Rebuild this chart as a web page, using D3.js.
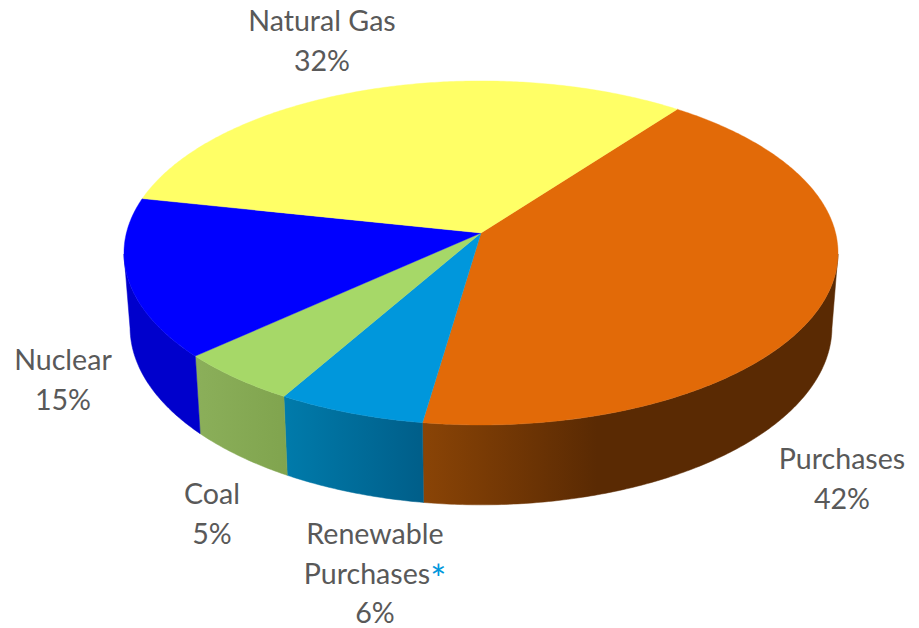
<!DOCTYPE html>
<html>
<head>
<meta charset="utf-8">
<script src="https://cdn.jsdelivr.net/npm/d3@7"></script>
<style>
  html, body { margin: 0; padding: 0; background: #fff; }
  text { font-family: Lato, "Open Sans", sans-serif; font-size: 28.6px; fill: #595959; text-anchor: middle; }
</style>
</head>
<body>
<div id="diagram"></div>
<script>
const categories = ["Purchases", "Renewable Purchases", "Coal", "Nuclear", "Natural Gas"];
const shares = [42, 6, 5, 15, 32];
const topColors = ["#E26A08", "#0097DC", "#A6D868", "#0000FF", "#FFFF66"];
const wallColors = [
  ["#8A4406", "#5A2A03"],
  ["#007BAB", "#005E89"],
  ["#8BAF5A", "#80A44E"],
  ["#0000CC", "#0000CC"],
  ["#999933", "#999933"]
];

var width = 919, height = 628;

// pie geometry, perspective was worked out from the rim of the picture
const cx = 481, cy = 233;
const rx = 354.6, ry = 169.7, persp = 0.116;
const depth = 73.5, shrink = 0.983;
const rad = Math.PI / 180;

// the wall is only seen between these two angles, the rim folds over there
const foldRight = 97 * rad, foldLeft = 263 * rad;

function project(a, level) {
  // level 0 = top face, level 1 = bottom rim
  const u = Math.sin(a), v = -Math.cos(a);
  const w = 1 - persp * v;
  const s = level ? shrink : 1;
  return [cx + rx * s * u / w, cy + (ry * s * v + (level ? depth : 0)) / w];
}

function arcPoints(a0, a1, level) {
  const n = Math.ceil(Math.abs(a1 - a0) / 0.01);
  return d3.range(n + 1).map(i => project(a0 + (a1 - a0) * i / n, level));
}

const line = d3.line();
const pie = d3.pie().sort(null).startAngle(37.2 * rad).endAngle((37.2 + 360) * rad);
const slices = pie(shares);

var svg = d3.select("#diagram").append("svg")
  .attr("width", width)
  .attr("height", height)
  .style("display", "block");

var defs = svg.append("defs");

// side walls first
slices.forEach((d, i) => {
  const a0 = Math.max(d.startAngle, foldRight);
  const a1 = Math.min(d.endAngle, foldLeft);
  if (a1 <= a0) return;
  const pts = arcPoints(a0, a1, 0).concat(arcPoints(a1, a0, 1));
  const xs = pts.map(p => p[0]);
  const id = "wall" + i;
  const grad = defs.append("linearGradient")
    .attr("id", id)
    .attr("gradientUnits", "userSpaceOnUse")
    .attr("x1", d3.min(xs))
    .attr("x2", d3.max(xs));
  // the orange wall goes dark long before the right edge
  grad.append("stop").attr("offset", 0).attr("stop-color", wallColors[i][0]);
  grad.append("stop").attr("offset", i == 0 ? 0.42 : 1).attr("stop-color", wallColors[i][1]);
  svg.append("path")
    .attr("d", line(pts) + "Z")
    .attr("fill", "url(#" + id + ")")
    .attr("stroke", "url(#" + id + ")")
    .attr("stroke-width", 0.5);
});

svg.append("g")
  .selectAll("path")
  .data(slices)
  .enter()
  .append("path")
  .attr("d", d => line([[cx, cy]].concat(arcPoints(d.startAngle, d.endAngle, 0))) + "Z")
  .attr("fill", (d, i) => topColors[i])
  .attr("stroke", (d, i) => topColors[i])
  .attr("stroke-width", 0.4);

// labels
const labelLines = [
  ["Purchases", shares[0] + "%"],
  ["Renewable", "Purchases", shares[1] + "%"],
  ["Coal", shares[2] + "%"],
  ["Nuclear", shares[3] + "%"],
  ["Natural Gas", shares[4] + "%"]
];
const labelX = [842, 375, 212, 63, 322];
const labelY = [469, 544, 504, 370, 31];
const lineGap = 39.5;

labelLines.forEach((lines, i) => {
  lines.forEach((t, j) => {
    var txt = svg.append("text")
      .attr("x", labelX[i])
      .attr("y", labelY[i] + j * lineGap)
      .text(t);
    if (i == 1 && j == 1) {
      txt.append("tspan")
        .style("fill", "#0097DC")
        .style("font-size", "38px")
        .attr("dy", 9)
        .text("*");
    }
  });
});
</script>
</body>
</html>
